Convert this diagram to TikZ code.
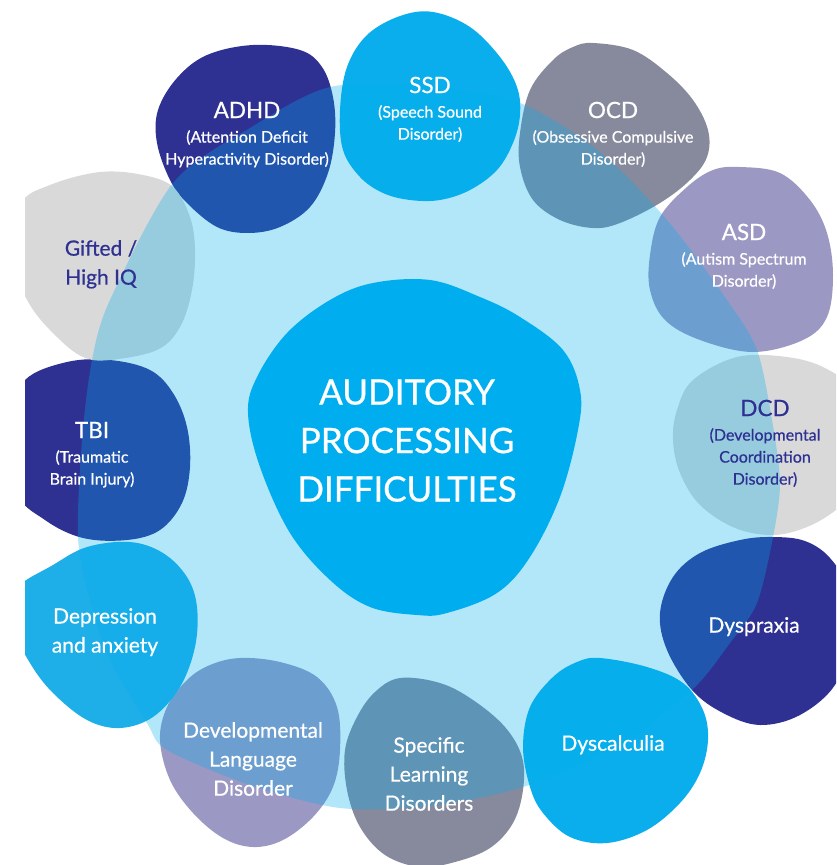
\documentclass[tikz,border=0pt]{standalone}
\usepackage{fontspec}
\setmainfont{Lato}[FakeBold=0.6]
\definecolor{apdnavy}{HTML}{2E3192}
\definecolor{apdcyan}{HTML}{00AEEF}
\definecolor{apdsky}{HTML}{0AAEEC}
\definecolor{apdsoft}{HTML}{1FAFE8}
\definecolor{apdgrey}{HTML}{D9D9D9}
\definecolor{apdslate}{HTML}{878A9C}
\definecolor{apdlilac}{HTML}{9B99C3}
\begin{document}
\begin{tikzpicture}
[x=1pt,y=-1pt,
  blobfill/.style={smooth cycle,tension=0.6},%
  blobtitle/.style={font=\fontsize{22.5}{26}\selectfont,inner sep=0pt},%
  blobsub/.style={font=\fontsize{16}{22}\selectfont,align=center,inner sep=0pt,anchor=north},%
  blobtext/.style={font=\fontsize{21}{29}\selectfont,align=center,inner sep=0pt,anchor=north},%
  centretext/.style={font=\fontsize{35}{48.5}\selectfont,align=center,inner sep=0pt,anchor=north,text=white}]
\useasboundingbox (0,0) rectangle (836,865);
\begin{scope}
\clip (25,0) rectangle (836,865);
%% outer ring of blobs
% ADHD
\fill[apdnavy] plot[blobfill] coordinates {(253,45) (300,50) (322,67) (333,97) (335,133) (328,173) (310,207) (280,227) (248,233) (217,227) (187,203) (170,180) (157,143) (158,110) (177,78) (207,55)};
% SSD
\fill[apdsky] plot[blobfill] coordinates {(433,12) (470,27) (500,57) (517,87) (520,115) (513,143) (497,170) (470,190) (440,200) (410,200) (383,193) (360,177) (343,150) (340,110) (347,67) (367,35) (400,16)};
% OCD
\fill[apdslate] plot[blobfill] coordinates {(593,43) (633,50) (667,73) (693,100) (708,130) (707,157) (690,180) (660,203) (620,223) (593,228) (560,220) (533,200) (520,167) (520,133) (530,90) (553,60) (573,47)};
% ASD
\fill[apdlilac] plot[blobfill] coordinates {(740,167) (780,173) (810,200) (827,233) (833,275) (827,317) (803,340) (753,352) (700,340) (665,320) (650,290) (650,255) (660,217) (687,187) (713,170)};
% DCD
\fill[apdgrey] plot[blobfill] coordinates {(737,357) (787,357) (825,368) (850,390) (860,440) (855,490) (836,510) (807,527) (773,535) (735,528) (700,505) (680,473) (673,440) (677,410) (693,380)};
% Dyspraxia
\fill[apdnavy] plot[blobfill] coordinates {(773,537) (805,541) (830,558) (848,590) (850,640) (835,685) (800,715) (760,725) (723,713) (692,690) (667,650) (660,613) (673,577) (700,553) (740,540)};
% Dyscalculia
\fill[apdsky] plot[blobfill] coordinates {(600,658) (647,667) (683,683) (703,710) (708,740) (700,773) (680,803) (647,830) (607,843) (570,837) (543,813) (530,787) (523,747) (530,707) (553,677) (577,662)};
% specific learning disorders
\fill[apdslate] plot[blobfill] coordinates {(400,678) (440,683) (473,700) (505,727) (522,757) (523,790) (513,823) (490,848) (455,862) (420,867) (385,855) (360,827) (347,790) (345,750) (357,717) (375,692)};
% DLD
\fill[apdlilac] plot[blobfill] coordinates {(240,658) (280,662) (317,677) (337,707) (340,750) (333,787) (313,817) (283,840) (253,847) (223,838) (193,813) (170,780) (160,740) (167,707) (187,680) (210,665)};
% depression
\fill[apdsoft] plot[blobfill] coordinates {(130,542) (163,553) (187,577) (197,607) (195,647) (180,687) (153,717) (120,728) (87,720) (53,693) (30,663) (12,625) (15,590) (53,565) (87,547)};
% TBI
\fill[apdnavy] plot[blobfill] coordinates {(110,360) (150,370) (173,393) (187,427) (190,467) (182,503) (160,530) (127,540) (83,538) (45,520) (15,490) (10,420) (25,380) (67,362)};
% gifted
\fill[apdgrey] plot[blobfill] coordinates {(100,172) (143,175) (173,187) (190,217) (195,250) (192,290) (180,327) (157,350) (110,360) (83,357) (57,337) (30,305) (12,260) (20,205) (50,185)};
%% see-through disc laid over the ring
\fill[apdcyan,fill opacity=0.3] plot[smooth cycle] coordinates {(430,86) (520,103) (600,152) (667,220) (727,300) (757,350) (772,420) (780,483) (773,537) (757,603) (730,643) (692,690) (620,745) (523,787) (430,806) (340,808) (250,785) (167,750) (147,723) (110,660) (90,600) (78,537) (82,440) (92,360) (110,300) (173,183) (250,128) (330,87)};
\end{scope}
%% middle blob
\fill[apdcyan] plot[blobfill] coordinates {(430,280) (480,297) (520,317) (563,350) (580,390) (578,430) (560,497) (530,557) (497,593) (447,613) (417,615) (370,607) (330,580) (290,533) (260,467) (248,413) (257,377) (287,333) (330,300) (373,283)};
\node[centretext] (apd) at (407,379) {AUDITORY\\PROCESSING\\DIFFICULTIES};
%% labels with a short name on top
\foreach \name/\x/\y/\col/\title/\sub in {adhd/247/110/white/ADHD/{(Attention Deficit\\Hyperactivity Disorder)},
  ssd/430/85/white/SSD/{(Speech Sound\\Disorder)},
  ocd/613/110/white/OCD/{(Obsessive Compulsive\\Disorder)},
  asd/744/232/white/ASD/{(Autism Spectrum\\Disorder)},
  dcd/765/408/apdnavy/DCD/{(Developmental\\Coordination\\Disorder)},
  tbi/92/430/white/TBI/{(Traumatic\\Brain Injury)}} {
  \node[blobtitle,text=\col] (\name) at (\x,\y) {\title};
  \node[blobsub,text=\col] (\name-sub) at (\x,\y+20) {\sub};
}
%% plain labels
\foreach \name/\x/\y/\col/\txt in {gifted/101/240/apdnavy/{Gifted /\\High IQ},
  depression/105/608/white/{Depression\\and anxiety},
  dyspraxia/754/617/white/Dyspraxia,
  dyscalculia/613/735/white/Dyscalculia,
  dld/253/722/white/{Developmental\\Language\\Disorder},
  slds/429/737/white/{Specific\\Learning\\Disorders}} {
  \node[blobtext,text=\col] (\name) at (\x,\y) {\txt};
}
\end{tikzpicture}
\end{document}
